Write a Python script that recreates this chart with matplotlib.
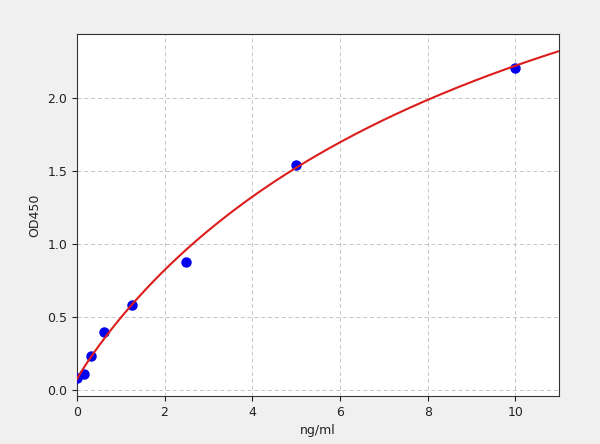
import numpy as np
import matplotlib
matplotlib.use("Agg")
import matplotlib.pyplot as plt

# Standard points
conc = [0.0, 0.156, 0.3125, 0.625, 1.25, 2.5, 5.0, 10.0]
od450 = [0.078, 0.11, 0.233, 0.398, 0.579, 0.874, 1.54, 2.208]

# 4PL fit parameters
fit_a = 0.07    # response at zero
fit_b = 0.95    # slope
fit_c = 10.75   # inflection
fit_d = 4.53    # upper asymptote

x_ticks = [0, 2, 4, 6, 8, 10]
y_ticks = [0.0, 0.5, 1.0, 1.5, 2.0]

def four_pl(x):
    x = np.asarray(x, dtype=float)
    return fit_d + (fit_a - fit_d) / (1.0 + (x / fit_c) ** fit_b)

fig = plt.figure(figsize=(6.0, 4.44), dpi=100, facecolor="#f0f0f0")
ax = fig.add_axes([0.128, 0.108, 0.804, 0.815])
ax.set_facecolor("white")

xs = np.linspace(0, 11, 400)
ax.plot(conc, od450, "o", color="#0000ee", markersize=6.5, zorder=3)
ax.plot(xs, four_pl(xs), "-", color="#dd1c1c", linewidth=1.5, zorder=4)

ax.set_xlim(0, 11)
ax.set_ylim(-0.044, 2.44)
ax.set_xticks(x_ticks)
ax.set_yticks(y_ticks)
ax.set_xticklabels([str(t) for t in x_ticks])
ax.set_yticklabels([f"{t:.1f}" for t in y_ticks])
ax.tick_params(labelsize=9, colors="#222222")
ax.grid(True, linestyle=(0, (4, 3)), color="#c4c4c4", linewidth=0.7)
ax.set_axisbelow(True)
for s in ax.spines.values():
    s.set_color("#333333")

ax.set_xlabel("ng/ml", fontsize=9, color="#222222")
ax.set_ylabel("OD450", fontsize=9, color="#222222")

fig.savefig("out.png", dpi=100, facecolor=fig.get_facecolor())
